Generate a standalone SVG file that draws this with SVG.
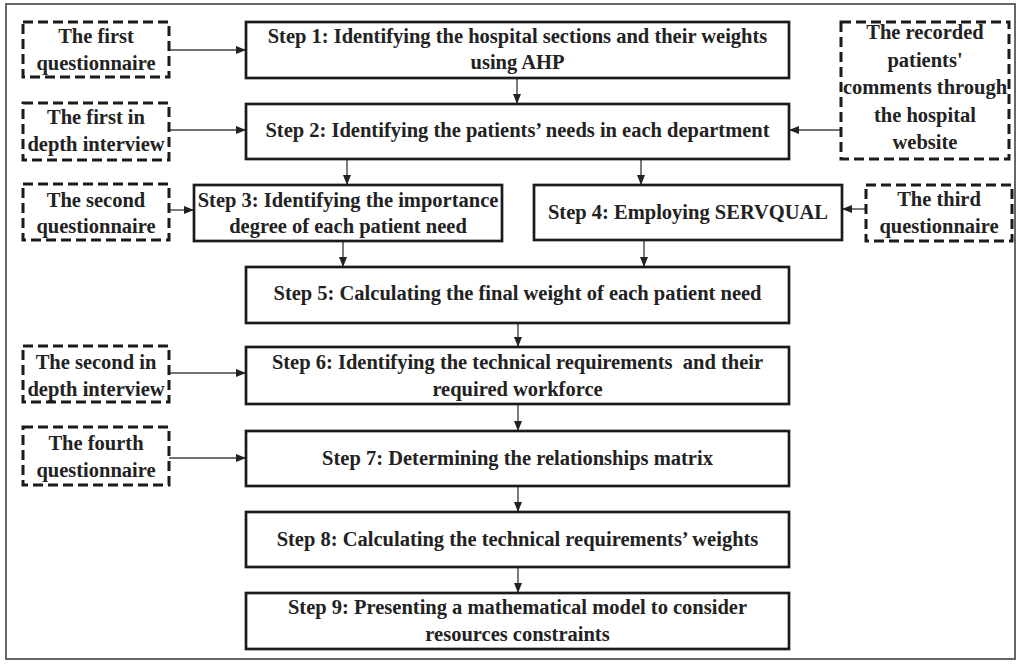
<svg xmlns="http://www.w3.org/2000/svg" width="1019" height="666" viewBox="0 0 1019 666">
<defs>
<style>
.frame{fill:#fff;stroke:#666;stroke-width:2}
.box{fill:#fff;stroke:#1a1a1a;stroke-width:2.7}
.dbox{fill:#fff;stroke:#1a1a1a;stroke-width:3;stroke-dasharray:10 5}
.t{font-family:"Liberation Serif","Times New Roman",serif;font-weight:bold;font-size:20.5px;fill:#222;text-anchor:middle}
.c{stroke:#444;stroke-width:1.4;fill:none}
</style>
<marker id="ah" viewBox="0 0 10 8" refX="10" refY="4" markerWidth="10" markerHeight="8" markerUnits="userSpaceOnUse" orient="auto">
<path d="M0,0 L10,4 L0,8 z" fill="#222"/>
</marker>
</defs>
<rect width="1019" height="666" fill="#fff"/>
<rect class="frame" x="6" y="4" width="1009" height="655"/>

<g id="connectors">
<line class="c" x1="169" y1="50" x2="246" y2="50" marker-end="url(#ah)"/>
<line class="c" x1="517" y1="78" x2="517" y2="104" marker-end="url(#ah)"/>
<line class="c" x1="169" y1="130" x2="246" y2="130" marker-end="url(#ah)"/>
<line class="c" x1="841" y1="130" x2="789" y2="130" marker-end="url(#ah)"/>
<line class="c" x1="347" y1="159" x2="347" y2="185" marker-end="url(#ah)"/>
<line class="c" x1="641" y1="159" x2="641" y2="185" marker-end="url(#ah)"/>
<line class="c" x1="169" y1="210" x2="194" y2="210" marker-end="url(#ah)"/>
<line class="c" x1="866" y1="209" x2="842" y2="209" marker-end="url(#ah)"/>
<line class="c" x1="343" y1="241" x2="343" y2="267" marker-end="url(#ah)"/>
<line class="c" x1="644" y1="240" x2="644" y2="267" marker-end="url(#ah)"/>
<line class="c" x1="518" y1="323" x2="518" y2="347" marker-end="url(#ah)"/>
<line class="c" x1="169" y1="373" x2="246" y2="373" marker-end="url(#ah)"/>
<line class="c" x1="518" y1="404" x2="518" y2="431" marker-end="url(#ah)"/>
<line class="c" x1="169" y1="458" x2="246" y2="458" marker-end="url(#ah)"/>
<line class="c" x1="518" y1="486" x2="518" y2="512" marker-end="url(#ah)"/>
<line class="c" x1="518" y1="567" x2="518" y2="593" marker-end="url(#ah)"/>
</g>

<g id="q1">
<rect class="dbox" x="23" y="22" width="146" height="55"/>
<text class="t" x="96" y="43">The first</text>
<text class="t" x="96" y="70">questionnaire</text>
</g>
<g id="step1">
<rect class="box" x="246" y="22" width="543" height="56"/>
<text class="t" x="517.5" y="43">Step 1: Identifying the hospital sections and their weights</text>
<text class="t" x="517.5" y="69">using AHP</text>
</g>
<g id="web">
<rect class="dbox" x="841" y="22" width="168" height="137"/>
<text class="t" x="925" y="39">The recorded</text>
<text class="t" x="925" y="66.5">patients'</text>
<text class="t" x="925" y="94">comments through</text>
<text class="t" x="925" y="121.5">the hospital</text>
<text class="t" x="925" y="149">website</text>
</g>
<g id="int1">
<rect class="dbox" x="23" y="103" width="146" height="57"/>
<text class="t" x="96" y="124">The first in</text>
<text class="t" x="96" y="151">depth interview</text>
</g>
<g id="step2">
<rect class="box" x="246" y="104" width="543" height="55"/>
<text class="t" x="517.5" y="137">Step 2: Identifying the patients’ needs in each department</text>
</g>
<g id="q2">
<rect class="dbox" x="23" y="184" width="146" height="56"/>
<text class="t" x="96" y="207">The second</text>
<text class="t" x="96" y="233">questionnaire</text>
</g>
<g id="step3">
<rect class="box" x="194" y="185" width="308" height="56"/>
<text class="t" x="348" y="207">Step 3: Identifying the importance</text>
<text class="t" x="348" y="233">degree of each patient need</text>
</g>
<g id="step4">
<rect class="box" x="534" y="185" width="308" height="55"/>
<text class="t" x="688" y="219">Step 4: Employing SERVQUAL</text>
</g>
<g id="q3">
<rect class="dbox" x="866" y="185" width="146" height="56"/>
<text class="t" x="939" y="206">The third</text>
<text class="t" x="939" y="233">questionnaire</text>
</g>
<g id="step5">
<rect class="box" x="246" y="267" width="543" height="56"/>
<text class="t" x="517.5" y="300">Step 5: Calculating the final weight of each patient need</text>
</g>
<g id="int2">
<rect class="dbox" x="23" y="346" width="146" height="56"/>
<text class="t" x="96" y="369">The second in</text>
<text class="t" x="96" y="396">depth interview</text>
</g>
<g id="step6">
<rect class="box" x="246" y="347" width="543" height="57"/>
<text class="t" x="517.5" y="369" style="white-space:pre">Step 6: Identifying the technical requirements  and their</text>
<text class="t" x="517.5" y="396">required workforce</text>
</g>
<g id="q4">
<rect class="dbox" x="23" y="427" width="146" height="58"/>
<text class="t" x="96" y="450">The fourth</text>
<text class="t" x="96" y="477">questionnaire</text>
</g>
<g id="step7">
<rect class="box" x="246" y="431" width="543" height="55"/>
<text class="t" x="517.5" y="465">Step 7: Determining the relationships matrix</text>
</g>
<g id="step8">
<rect class="box" x="246" y="512" width="543" height="55"/>
<text class="t" x="517.5" y="546">Step 8: Calculating the technical requirements’ weights</text>
</g>
<g id="step9">
<rect class="box" x="246" y="593" width="543" height="56"/>
<text class="t" x="517.5" y="614">Step 9: Presenting a mathematical model to consider</text>
<text class="t" x="517.5" y="641">resources constraints</text>
</g>
</svg>
